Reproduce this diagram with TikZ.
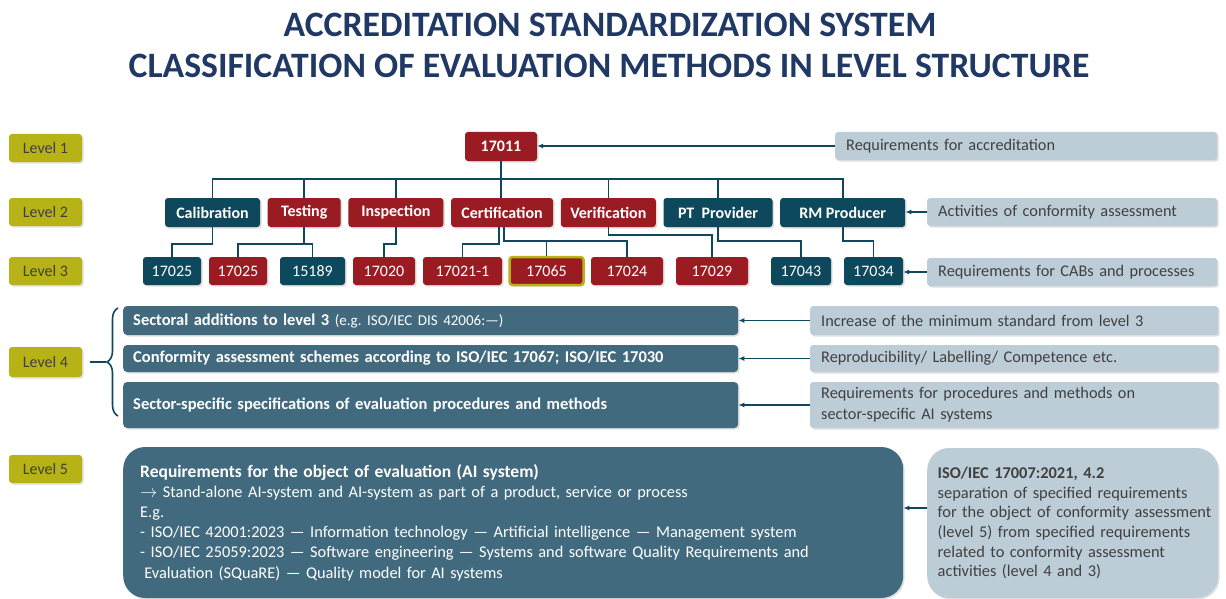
\documentclass[tikz,border=0pt]{standalone}
\usepackage{fontspec}
\setmainfont{Carlito}
\usetikzlibrary{arrows.meta, positioning, calc, shadows, decorations.pathreplacing}

\definecolor{levelolive}{RGB}{183,178,22}
\definecolor{certred}{RGB}{155,27,35}
\definecolor{deepteal}{RGB}{14,72,92}
\definecolor{slateteal}{RGB}{66,106,126}
\definecolor{paleblue}{RGB}{188,205,215}
\definecolor{titleblue}{RGB}{31,56,100}
\definecolor{darktext}{RGB}{64,64,64}

\begin{document}
\begin{tikzpicture}
   [
      x=1pt, y=-1pt,
      soft shadow/.style={drop shadow={opacity=0.25, shadow xshift=1.5pt, shadow yshift=-1.5pt}},
      title text/.style={text=titleblue, font=\bfseries\fontsize{35.7}{40}\selectfont},
      level tag/.style={rectangle, rounded corners=3pt, fill=levelolive, minimum width=73pt,
                        minimum height=28pt, inner sep=0pt, text=darktext,
                        font=\fontsize{16}{19}\selectfont, soft shadow},
      red box/.style={rectangle, rounded corners=3pt, fill=certred, text=white,
                      minimum height=28pt, inner sep=0pt, font=\fontsize{16}{19}\selectfont, soft shadow},
      teal box/.style={red box, fill=deepteal},
      activity/.style={minimum height=29pt, font=\bfseries\fontsize{16}{19}\selectfont},
      info box/.style={rectangle, rounded corners=3pt, fill=paleblue, text=darktext, anchor=west,
                       align=left, inner xsep=11pt, inner ysep=0pt, text width=#1,
                       font=\fontsize{16.3}{21}\selectfont, soft shadow},
      scheme box/.style={rectangle, rounded corners=4pt, fill=slateteal, text=white, anchor=west,
                         align=left, inner xsep=10pt, inner ysep=0pt, text width=595pt,
                         font=\bfseries\fontsize{16.5}{19.5}\selectfont, soft shadow},
      tree line/.style={draw=deepteal, line width=1.6pt},
      pointer/.style={draw=deepteal, line width=1.5pt, -{Latex[length=6pt, width=5pt]}}
   ]

   \useasboundingbox (0,0) rectangle (1226,599);
   \fill[white] (0,0) rectangle (1226,599);

   % =======================================================
   % Title
   % =======================================================
   \node[title text] (title1) at (610,24.5) {ACCREDITATION STANDARDIZATION SYSTEM};
   \node[title text] (title2) at (609,66) {CLASSIFICATION OF EVALUATION METHODS IN LEVEL STRUCTURE};

   % =======================================================
   % Level tags
   % =======================================================
   \node[level tag] (lvl1) at (45.5,148) {Level 1};
   \node[level tag] (lvl2) at (45.5,212) {Level 2};
   \node[level tag] (lvl3) at (45.5,271) {Level 3};
   \node[level tag, minimum height=30pt] (lvl4) at (45.5,362) {Level 4};
   \node[level tag] (lvl5) at (45.5,469) {Level 5};

   % =======================================================
   % Levels 1 to 3: tree of standards
   % =======================================================

   % Level 1
   \node[red box, activity, minimum width=72pt] (n17011) at (501,146.5) {17011};

   % Level 2 (activities)
   \node[teal box, activity, minimum width=95pt] (calib) at (212.5,212.5) {Calibration};
   \node[red box, activity, minimum width=73pt, right=7.3pt of calib] (testing) {Testing};
   \node[red box, activity, minimum width=95pt, right=7.3pt of testing] (insp) {Inspection};
   \node[red box, activity, minimum width=102pt, right=7.3pt of insp] (cert) {Certification};
   \node[red box, activity, minimum width=95pt, right=7.3pt of cert] (verif) {Verification};
   \node[teal box, activity, minimum width=109pt, right=7.3pt of verif] (ptprov) {PT\ \ Provider};
   \node[teal box, activity, minimum width=125pt, right=7.3pt of ptprov] (rmprod) {RM Producer};

   % Level 3 (standards)
   \node[teal box, minimum width=58pt] (cal17025) at (172,271) {17025};
   \node[red box, minimum width=58pt] (tst17025) at (238,271) {17025};
   \node[teal box, minimum width=65pt] (tst15189) at (312.5,271) {15189};
   \node[red box, minimum width=62pt] (ins17020) at (384,271) {17020};
   \node[red box, minimum width=79pt] (cer17021) at (462.5,271) {17021-1};
   \node[red box, minimum width=74pt, draw=levelolive, line width=2.5pt] (cer17065) at (546.5,271) {17065};
   \node[red box, minimum width=72pt] (cer17024) at (627,271) {17024};
   \node[red box, minimum width=72pt] (ver17029) at (712,271) {17029};
   \node[teal box, minimum width=60pt] (pt17043) at (801,271) {17043};
   \node[teal box, minimum width=59pt] (rm17034) at (873.5,271) {17034};

   % Rails of the tree
   \coordinate (bus) at (0,179);
   \coordinate (railA) at (0,244);
   \coordinate (railB) at (0,241);
   \coordinate (railC) at (0,235);

   % Level 1 to level 2
   \draw[tree line] (calib.north) |- (rmprod.north |- bus) -- (rmprod.north);
   \draw[tree line] (n17011.south) -- (n17011.south |- cert.north);
   \draw[tree line] (testing.north) -- (testing.north |- bus);
   \draw[tree line] (insp.north) -- (insp.north |- bus);
   \draw[tree line] (verif.north) -- (verif.north |- bus);
   \draw[tree line] (ptprov.north) -- (ptprov.north |- bus);

   % Level 2 to level 3
   \draw[tree line] (calib.south) |- (cal17025.north |- railA) -- (cal17025.north);
   \draw[tree line] (testing.south) -- (testing.south |- railA);
   \draw[tree line] (tst17025.north) |- (tst15189.north |- railA) -- (tst15189.north);
   \draw[tree line] (insp.south) |- (ins17020.north |- railA) -- (ins17020.north);
   \draw[tree line] ([xshift=-3pt]cert.south) |- (cer17021.north |- railA) -- (cer17021.north);
   \draw[tree line] ([xshift=2pt]cert.south) |- (cer17024.north |- railB) -- (cer17024.north);
   \draw[tree line] (cer17065.north) -- (cer17065.north |- railB);
   \draw[tree line] (verif.south) |- (ver17029.north |- railC) -- (ver17029.north);
   \draw[tree line] (ptprov.south) |- (pt17043.north |- railB) -- (pt17043.north);
   \draw[tree line] (rmprod.south) |- (rm17034.north |- railB) -- (rm17034.north);

   % Explanations on the right
   \node[info box=360pt, minimum height=28pt] (reqAccr) at (835,146) {Requirements for accreditation};
   \node[info box=268pt, minimum height=28pt] (actCA) at (927,212) {Activities of conformity assessment};
   \node[info box=268pt, minimum height=28pt] (reqCAB) at (927,272) {Requirements for CABs and processes};

   \draw[pointer] (reqAccr.west) -- (reqAccr.west -| n17011.east);
   \draw[pointer] (actCA.west) -- (actCA.west -| rmprod.east);
   \draw[pointer] (reqCAB.west) -- (reqCAB.west -| rm17034.east);

   % =======================================================
   % Level 4: schemes and sector specifications
   % =======================================================
   \node[scheme box, minimum height=29pt] (sec1) at (123,320.5)
      {Sectoral additions to level 3 {\mdseries\fontsize{15}{19.5}\selectfont(e.g.\ ISO/IEC DIS 42006:—)}};
   \node[scheme box, minimum height=27pt] (sec2) at (123,358.5)
      {Conformity assessment schemes according to ISO/IEC 17067; ISO/IEC 17030};
   \node[scheme box, minimum height=46pt] (sec3) at (123,405)
      {Sector-specific specifications of evaluation procedures and methods};

   % Brace joining the three boxes
   \coordinate (braceTip) at (106,362);
   \draw[tree line, decorate, decoration={brace, amplitude=11pt}] (118,416) -- (118,308);
   \draw[tree line] ([xshift=8pt]lvl4.east) -- (braceTip);

   \node[info box=386pt, minimum height=29pt] (incMin) at (810,320.5)
      {Increase of the minimum standard from level 3};
   \node[info box=386pt, minimum height=27pt] (reproLab) at (810,358.5)
      {Reproducibility/ Labelling/ Competence etc.};
   \node[info box=386pt, minimum height=46pt] (procMeth) at (810,405)
      {Requirements for procedures and methods on\\sector-specific AI systems};

   \draw[pointer] (incMin.west) -- (incMin.west -| sec1.east);
   \draw[pointer] (reproLab.west) -- (reproLab.west -| sec2.east);
   \draw[pointer] (procMeth.west) -- (procMeth.west -| sec3.east);

   % =======================================================
   % Level 5: object of evaluation
   % =======================================================
   \node[scheme box, rounded corners=22pt, inner xsep=17pt, text width=746pt,
         minimum height=151pt, font=\fontsize{16.35}{20.2}\selectfont] (objEval) at (123,522.5)
      {{\bfseries\fontsize{17.5}{20.2}\selectfont Requirements for the object of evaluation (AI system)}\\
       $\rightarrow$ Stand-alone AI-system and AI-system as part of a product, service or process\\
       E.g.\\
       - ISO/IEC 42001:2023 — Information technology — Artificial intelligence — Management system\\
       - ISO/IEC 25059:2023 — Software engineering — Systems and software Quality Requirements and\\
       \hspace*{0.25em}Evaluation (SQuaRE) — Quality model for AI systems};

   \node[info box=270pt, rounded corners=22pt, inner xsep=10.5pt, minimum height=150pt,
         font=\fontsize{16.4}{19.7}\selectfont] (isoSep) at (927,523)
      {\textbf{ISO/IEC 17007:2021, 4.2}\\
       \mbox{separation of specified requirements}\\
       \mbox{for the object of conformity assessment}\\
       \mbox{(level 5) from specified requirements}\\
       \mbox{related to conformity assessment}\\
       \mbox{activities (level 4 and 3)}};

   \draw[pointer] ([yshift=15pt]isoSep.west) -- ([yshift=15pt]isoSep.west -| objEval.east);

\end{tikzpicture}
\end{document}
